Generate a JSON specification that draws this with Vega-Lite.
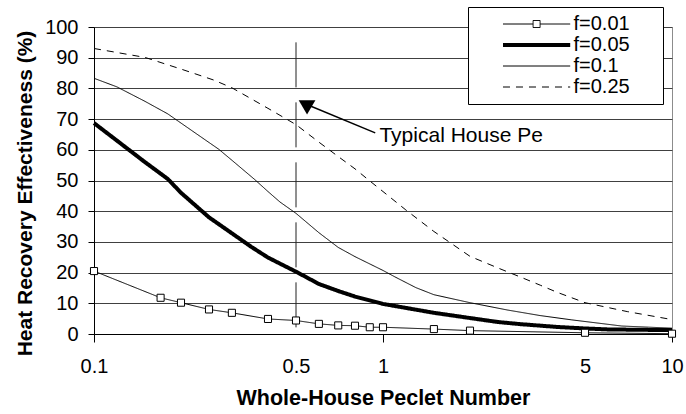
{
  "$schema": "https://vega.github.io/schema/vega-lite/v6.json",
  "width": 578,
  "height": 307,
  "autosize": "none",
  "padding": {"left": 94, "top": 27, "right": 14, "bottom": 80},
  "background": "white",
  "config": {
    "font": "Liberation Sans",
    "view": {"stroke": "#8c8c8c", "strokeWidth": 1},
    "axis": {
      "labelFont": "Liberation Sans",
      "titleFont": "Liberation Sans",
      "labelColor": "black",
      "titleColor": "black",
      "domainColor": "black",
      "tickColor": "black",
      "labelFontSize": 20,
      "titleFontWeight": "bold"
    },
    "legend": {
      "orient": "none",
      "legendX": 374,
      "legendY": -20,
      "padding": 7,
      "strokeColor": "black",
      "fillColor": "white",
      "symbolSize": 64,
      "symbolStrokeColor": "black",
      "labelFontSize": 20,
      "labelColor": "black",
      "labelFont": "Liberation Sans",
      "labelOffset": 26.9,
      "rowPadding": 1,
      "symbolOffset": 51.6,
      "labelLimit": 300,
      "titleOrient": "right",
      "titleOpacity": 0,
      "titlePadding": 0,
      "titleFontSize": 18,
      "titleFontWeight": "bold"
    }
  },
  "datasets": {
    "curves": [
      {"f": "f=0.01", "pe": 0.1, "eff": 20.5},
      {"f": "f=0.01", "pe": 0.17, "eff": 11.8},
      {"f": "f=0.01", "pe": 0.2, "eff": 10.2},
      {"f": "f=0.01", "pe": 0.25, "eff": 8.0},
      {"f": "f=0.01", "pe": 0.3, "eff": 6.9},
      {"f": "f=0.01", "pe": 0.4, "eff": 4.9},
      {"f": "f=0.01", "pe": 0.5, "eff": 4.4},
      {"f": "f=0.01", "pe": 0.6, "eff": 3.3},
      {"f": "f=0.01", "pe": 0.7, "eff": 2.8},
      {"f": "f=0.01", "pe": 0.8, "eff": 2.7},
      {"f": "f=0.01", "pe": 0.9, "eff": 2.2},
      {"f": "f=0.01", "pe": 1, "eff": 2.2},
      {"f": "f=0.01", "pe": 1.5, "eff": 1.6},
      {"f": "f=0.01", "pe": 2, "eff": 1.1},
      {"f": "f=0.01", "pe": 5, "eff": 0.4},
      {"f": "f=0.01", "pe": 10, "eff": 0.1},
      {"f": "f=0.05", "pe": 0.1, "eff": 68.7},
      {"f": "f=0.05", "pe": 0.12, "eff": 63.0},
      {"f": "f=0.05", "pe": 0.15, "eff": 56.0},
      {"f": "f=0.05", "pe": 0.18, "eff": 50.5},
      {"f": "f=0.05", "pe": 0.2, "eff": 46.0},
      {"f": "f=0.05", "pe": 0.25, "eff": 38.0},
      {"f": "f=0.05", "pe": 0.3, "eff": 32.8},
      {"f": "f=0.05", "pe": 0.35, "eff": 28.4},
      {"f": "f=0.05", "pe": 0.4, "eff": 24.9},
      {"f": "f=0.05", "pe": 0.5, "eff": 20.3},
      {"f": "f=0.05", "pe": 0.6, "eff": 16.3},
      {"f": "f=0.05", "pe": 0.7, "eff": 14.0},
      {"f": "f=0.05", "pe": 0.8, "eff": 12.2},
      {"f": "f=0.05", "pe": 1, "eff": 9.8},
      {"f": "f=0.05", "pe": 1.2, "eff": 8.5},
      {"f": "f=0.05", "pe": 1.5, "eff": 6.9},
      {"f": "f=0.05", "pe": 2, "eff": 5.2},
      {"f": "f=0.05", "pe": 2.5, "eff": 3.9},
      {"f": "f=0.05", "pe": 3, "eff": 3.2},
      {"f": "f=0.05", "pe": 4, "eff": 2.3},
      {"f": "f=0.05", "pe": 5, "eff": 1.8},
      {"f": "f=0.05", "pe": 6, "eff": 1.5},
      {"f": "f=0.05", "pe": 8, "eff": 1.35},
      {"f": "f=0.05", "pe": 10, "eff": 1.3},
      {"f": "f=0.1", "pe": 0.1, "eff": 83.3},
      {"f": "f=0.1", "pe": 0.12, "eff": 80.5},
      {"f": "f=0.1", "pe": 0.15, "eff": 75.8},
      {"f": "f=0.1", "pe": 0.18, "eff": 71.7},
      {"f": "f=0.1", "pe": 0.22, "eff": 66.0},
      {"f": "f=0.1", "pe": 0.27, "eff": 60.2},
      {"f": "f=0.1", "pe": 0.3, "eff": 56.6},
      {"f": "f=0.1", "pe": 0.36, "eff": 50.3},
      {"f": "f=0.1", "pe": 0.4, "eff": 46.4},
      {"f": "f=0.1", "pe": 0.44, "eff": 43.0},
      {"f": "f=0.1", "pe": 0.5, "eff": 39.3},
      {"f": "f=0.1", "pe": 0.6, "eff": 33.0},
      {"f": "f=0.1", "pe": 0.7, "eff": 28.2},
      {"f": "f=0.1", "pe": 0.8, "eff": 25.2},
      {"f": "f=0.1", "pe": 1, "eff": 20.7},
      {"f": "f=0.1", "pe": 1.1, "eff": 18.6},
      {"f": "f=0.1", "pe": 1.3, "eff": 15.1},
      {"f": "f=0.1", "pe": 1.5, "eff": 12.8},
      {"f": "f=0.1", "pe": 2, "eff": 10.2},
      {"f": "f=0.1", "pe": 2.7, "eff": 7.8},
      {"f": "f=0.1", "pe": 3.5, "eff": 6.0},
      {"f": "f=0.1", "pe": 4.5, "eff": 4.6},
      {"f": "f=0.1", "pe": 6.7, "eff": 2.6},
      {"f": "f=0.1", "pe": 10, "eff": 1.9},
      {"f": "f=0.25", "pe": 0.1, "eff": 93.0},
      {"f": "f=0.25", "pe": 0.15, "eff": 90.1},
      {"f": "f=0.25", "pe": 0.2, "eff": 86.3},
      {"f": "f=0.25", "pe": 0.26, "eff": 82.7},
      {"f": "f=0.25", "pe": 0.3, "eff": 80.2},
      {"f": "f=0.25", "pe": 0.4, "eff": 73.5},
      {"f": "f=0.25", "pe": 0.5, "eff": 68.2},
      {"f": "f=0.25", "pe": 0.6, "eff": 62.5},
      {"f": "f=0.25", "pe": 0.7, "eff": 57.8},
      {"f": "f=0.25", "pe": 0.8, "eff": 53.8},
      {"f": "f=0.25", "pe": 0.88, "eff": 50.6},
      {"f": "f=0.25", "pe": 1, "eff": 46.4},
      {"f": "f=0.25", "pe": 1.2, "eff": 40.4},
      {"f": "f=0.25", "pe": 1.5, "eff": 33.4},
      {"f": "f=0.25", "pe": 2, "eff": 25.3},
      {"f": "f=0.25", "pe": 2.5, "eff": 21.5},
      {"f": "f=0.25", "pe": 3, "eff": 18.5},
      {"f": "f=0.25", "pe": 3.5, "eff": 15.9},
      {"f": "f=0.25", "pe": 4, "eff": 13.6},
      {"f": "f=0.25", "pe": 5, "eff": 10.2},
      {"f": "f=0.25", "pe": 7, "eff": 7.3},
      {"f": "f=0.25", "pe": 10, "eff": 4.7}
    ],
    "minor": [
      {"pe": 0.2}, {"pe": 0.3}, {"pe": 0.4}, {"pe": 0.5}, {"pe": 0.6}, {"pe": 0.7}, {"pe": 0.8}, {"pe": 0.9},
      {"pe": 2}, {"pe": 3}, {"pe": 4}, {"pe": 5}, {"pe": 6}, {"pe": 7}, {"pe": 8}, {"pe": 9}
    ],
    "typical": [{"pe": 0.5, "eff": 95, "eff2": 0}],
    "arrow": [{"pe": 0.94, "eff": 65.5, "pe2": 0.537, "eff2": 75.0}],
    "head": [{"pe": 0.537, "eff": 75.0}],
    "note": [{"pe": 0.972, "eff": 62.6, "label": "Typical House Pe"}]
  },
  "encoding": {
    "x": {
      "field": "pe",
      "type": "quantitative",
      "scale": {"type": "log", "domain": [0.1, 10], "nice": false},
      "axis": {
        "title": "Whole-House Peclet Number",
        "titleFontSize": 21.5,
        "values": [0.1, 0.5, 1, 5, 10],
        "format": "~g",
        "grid": false,
        "tickSize": 8,
        "labelPadding": 14,
        "labelFlush": false,
        "labelOverlap": false,
        "tickOpacity": {"condition": {"test": "datum.value == 0.5 || datum.value == 5", "value": 0}, "value": 1},
        "titleY": 53
      }
    },
    "y": {
      "field": "eff",
      "type": "quantitative",
      "scale": {"domain": [0, 100], "nice": false},
      "axis": {
        "title": "Heat Recovery Effectiveness (%)",
        "titleFontSize": 21,
        "values": [0, 10, 20, 30, 40, 50, 60, 70, 80, 90, 100],
        "tickSize": 6,
        "labelPadding": 10,
        "grid": true,
        "gridColor": "#404040",
        "titleX": -59,
        "titleY": 166
      }
    }
  },
  "layer": [
    {
      "data": {"name": "minor"},
      "mark": {"type": "rule", "color": "black", "strokeWidth": 1},
      "encoding": {"y": {"datum": 1.3, "type": "quantitative"}, "y2": {"datum": 0}}
    },
    {
      "data": {"name": "typical"},
      "mark": {"type": "rule", "color": "#202020", "strokeWidth": 1, "strokeDash": [45, 15]},
      "encoding": {"y2": {"field": "eff2"}}
    },
    {
      "data": {"name": "curves"},
      "transform": [{"filter": "datum.f != 'f=0.05'"}],
      "mark": {"type": "line", "color": "black", "strokeWidth": 1},
      "encoding": {
        "detail": {"field": "f"},
        "strokeDash": {
          "field": "f",
          "type": "nominal",
          "scale": {"domain": ["f=0.01", "f=0.05", "f=0.1", "f=0.25"], "range": [[1, 0], [1, 0], [1, 0], [7, 6]]},
          "legend": {
            "title": "HH",
            "encode": {
              "symbols": {
                "update": {
                  "shape": {"signal": "datum.value === 'f=0.01' ? 'M-8.4,0H-0.875M0.875,0H8.4M-0.875,-0.875H0.875V0.875H-0.875Z' : 'M-8.4,0H8.4'"},
                  "strokeWidth": {"signal": "datum.value === 'f=0.05' ? 4 : 1"},
                  "fill": {"value": "white"},
                  "stroke": {"value": "black"}
                }
              }
            }
          }
        }
      }
    },
    {
      "data": {"name": "curves"},
      "transform": [{"filter": "datum.f == 'f=0.05'"}],
      "mark": {"type": "line", "color": "black", "strokeWidth": 4},
      "encoding": {
        "strokeDash": {
          "field": "f",
          "type": "nominal",
          "scale": {"domain": ["f=0.01", "f=0.05", "f=0.1", "f=0.25"], "range": [[1, 0], [1, 0], [1, 0], [7, 6]]},
          "legend": {
            "title": "HH",
            "encode": {
              "symbols": {
                "update": {
                  "shape": {"signal": "datum.value === 'f=0.01' ? 'M-8.4,0H-0.875M0.875,0H8.4M-0.875,-0.875H0.875V0.875H-0.875Z' : 'M-8.4,0H8.4'"},
                  "strokeWidth": {"signal": "datum.value === 'f=0.05' ? 4 : 1"},
                  "fill": {"value": "white"},
                  "stroke": {"value": "black"}
                }
              }
            }
          }
        }
      }
    },
    {
      "data": {"name": "curves"},
      "transform": [{"filter": "datum.f == 'f=0.01'"}],
      "mark": {"type": "point", "shape": "square", "size": 50, "filled": true, "fill": "white", "stroke": "black", "strokeWidth": 1, "opacity": 1}
    },
    {
      "data": {"name": "arrow"},
      "mark": {"type": "rule", "color": "black", "strokeWidth": 1.5},
      "encoding": {"x2": {"field": "pe2"}, "y2": {"field": "eff2"}}
    },
    {
      "data": {"name": "head"},
      "mark": {"type": "point", "shape": "triangle-up", "size": 280, "filled": true, "color": "black", "opacity": 1, "angle": 300}
    },
    {
      "data": {"name": "note"},
      "mark": {"type": "text", "align": "left", "baseline": "alphabetic", "fontSize": 21, "font": "Liberation Sans", "color": "black"},
      "encoding": {"text": {"field": "label"}}
    }
  ]
}
